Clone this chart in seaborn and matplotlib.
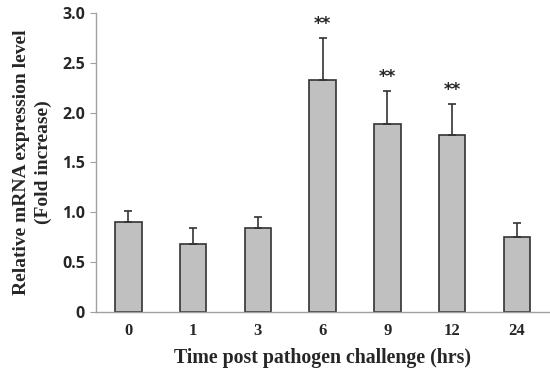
import numpy as np
import pandas as pd
import seaborn as sns
import matplotlib.pyplot as plt

# data
times = ['0', '1', '3', '6', '9', '12', '24']
expression = [0.90, 0.68, 0.84, 2.33, 1.89, 1.78, 0.75]
errors = [0.11, 0.16, 0.11, 0.42, 0.33, 0.31, 0.14]
stars = ['', '', '', '**', '**', '**', '']

df = pd.DataFrame({'time': times, 'expr': expression, 'err': errors})

sns.set_style('white')
fig = plt.figure(figsize=(5.5, 3.71), dpi=100)
ax = fig.add_axes([0.1745, 0.158, 0.824, 0.808])

sns.barplot(data=df, x='time', y='expr', color='#c0c0c0', edgecolor='#333333',
            linewidth=1.2, width=0.41, saturation=1, errorbar=None, ax=ax)

# upward-only error bars
ax.errorbar(np.arange(len(times)), expression, yerr=[np.zeros(len(times)), errors],
            fmt='none', ecolor='#333333', elinewidth=1.2, capsize=3, capthick=1.2)

# significance marks
for i, s in enumerate(stars):
    if s:
        ax.text(i, expression[i] + errors[i] + 0.05, s, ha='center', va='bottom',
                fontsize=12, fontweight='bold', family='DejaVu Sans')

ax.set_ylim(0, 3.0)
ax.set_xlim(-0.5, 6.5)
ax.set_yticks([0, 0.5, 1.0, 1.5, 2.0, 2.5, 3.0])
ax.set_yticklabels(['0', '0.5', '1.0', '1.5', '2.0', '2.5', '3.0'],
                   fontsize=11.5, fontweight='bold', family='Open Sans')
ax.set_xticks(range(len(times)))
ax.set_xticklabels(times, fontsize=12, fontweight='bold', family='Liberation Serif')
ax.set_xticks(np.arange(-0.5, 7, 1), minor=True)
ax.tick_params(axis='x', which='major', length=0, pad=8)
ax.tick_params(axis='x', which='minor', length=4, color='#a0a0a0', direction='out')
ax.tick_params(axis='y', length=4, color='#a0a0a0', direction='out', pad=4, left=True)

for side in ['top', 'right']:
    ax.spines[side].set_visible(False)
for side in ['left', 'bottom']:
    ax.spines[side].set_color('#a0a0a0')
    ax.spines[side].set_linewidth(1.0)

ax.set_xlabel('Time post pathogen challenge (hrs)', fontsize=14.3, fontweight='bold',
              family='Liberation Serif', labelpad=6)
ax.set_ylabel('Relative mRNA expression level\n(Fold increase)', fontsize=14,
              fontweight='bold', family='Liberation Serif', labelpad=7, linespacing=1.35)

fig.savefig('out.png', dpi=100)
